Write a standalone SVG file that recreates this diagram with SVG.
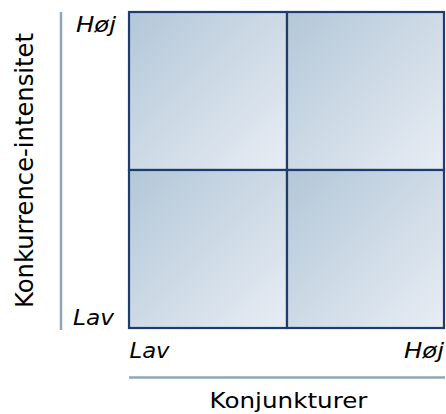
<svg xmlns="http://www.w3.org/2000/svg" width="446" height="414" viewBox="0 0 446 414">
  <style>
    .cell { stroke: #1f3c6e; stroke-width: 2.2; fill: url(#cellGrad); }
    .axis { stroke: #8ea6bb; stroke-width: 2.5; fill: none; }
    .lbl { font-family: "DejaVu Sans", Verdana, sans-serif; font-size: 21px; fill: #000; }
    .it { font-style: italic; }
  </style>
  <defs>
    <linearGradient id="cellGrad" x1="0" y1="0" x2="1" y2="1">
      <stop offset="0" stop-color="#b3c7d8"/>
      <stop offset="1" stop-color="#e8edf4"/>
    </linearGradient>
  </defs>

  <g id="axes">
    <line class="axis" x1="61" y1="12" x2="61" y2="330"/>
    <line class="axis" x1="129" y1="377.5" x2="445" y2="377.5"/>
  </g>

  <g id="cell-top-left"><rect class="cell" x="129" y="12" width="158" height="158"/></g>
  <g id="cell-top-right"><rect class="cell" x="287" y="12" width="157" height="158"/></g>
  <g id="cell-bottom-left"><rect class="cell" x="129" y="170" width="158" height="158"/></g>
  <g id="cell-bottom-right"><rect class="cell" x="287" y="170" width="157" height="158"/></g>

  <g id="labels">
    <text class="lbl it" x="76" y="32" textLength="40" lengthAdjust="spacingAndGlyphs">Høj</text>
    <text class="lbl it" x="73" y="325" textLength="41" lengthAdjust="spacingAndGlyphs">Lav</text>
    <text class="lbl it" x="129.5" y="358" textLength="40" lengthAdjust="spacingAndGlyphs">Lav</text>
    <text class="lbl it" x="404" y="357.5" textLength="40" lengthAdjust="spacingAndGlyphs">Høj</text>
    <text class="lbl" x="209.5" y="407.5" textLength="158" lengthAdjust="spacingAndGlyphs">Konjunkturer</text>
    <text class="lbl" transform="translate(33,170.5) rotate(-90)" text-anchor="middle" style="font-size:24px" textLength="275" lengthAdjust="spacingAndGlyphs">Konkurrence-intensitet</text>
  </g>
</svg>
